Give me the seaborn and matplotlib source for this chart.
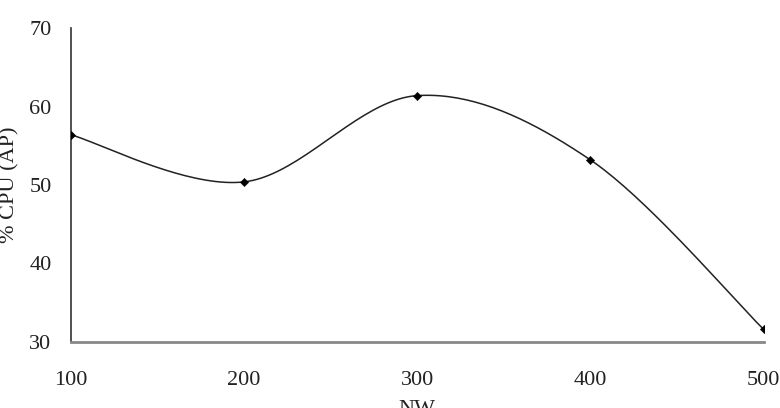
import numpy as np
import pandas as pd
import matplotlib
matplotlib.use('Agg')
import matplotlib.pyplot as plt
import seaborn as sns

nw = [100, 200, 300, 400, 500]
cpu = [56.4, 50.4, 61.4, 53.2, 31.6]
y_ticks = [30, 40, 50, 60, 70]


def smooth(xs, ys, n=40):
    # Excel-style smoothed line: cubic bezier segments, catmull-rom control points
    xs = np.asarray(xs, float)
    ys = np.asarray(ys, float)
    px = np.concatenate([[xs[0]], xs, [xs[-1]]])
    py = np.concatenate([[ys[0]], ys, [ys[-1]]])
    out_x, out_y = [], []
    t = np.linspace(0, 1, n)
    for i in range(1, len(px) - 2):
        p0 = np.array([px[i], py[i]])
        p3 = np.array([px[i + 1], py[i + 1]])
        c1 = p0 + (np.array([px[i + 1], py[i + 1]]) - np.array([px[i - 1], py[i - 1]])) / 6
        c2 = p3 - (np.array([px[i + 2], py[i + 2]]) - np.array([px[i], py[i]])) / 6
        b = ((1 - t) ** 3)[:, None] * p0 + (3 * (1 - t) ** 2 * t)[:, None] * c1 \
            + (3 * (1 - t) * t ** 2)[:, None] * c2 + (t ** 3)[:, None] * p3
        out_x.extend(b[:, 0])
        out_y.extend(b[:, 1])
    return out_x, out_y


sns.set_style('white')
plt.rcParams['font.family'] = ['Liberation Serif', 'DejaVu Serif']

fig = plt.figure(figsize=(7.8, 4.08), dpi=100)
ax = fig.add_axes([0.091, 0.162, 0.888, 0.769])

sx, sy = smooth(nw, cpu)
curve = pd.DataFrame({'NW': sx, 'CPU': sy})
points = pd.DataFrame({'NW': nw, 'CPU': cpu})
sns.lineplot(data=curve, x='NW', y='CPU', color='#222222', linewidth=1.1, ax=ax, sort=False)
sns.scatterplot(data=points, x='NW', y='CPU', marker='D', s=18, color='black',
                edgecolor='black', ax=ax, zorder=3)

ax.set_xlim(100, 500)
ax.set_ylim(30, 70)
ax.set_xticks(nw)
ax.set_yticks(y_ticks)
ax.tick_params(axis='both', labelsize=16, direction='out', width=1)
ax.tick_params(axis='x', length=4, pad=17, colors='#777777')
ax.tick_params(axis='y', length=7, pad=7, colors='#333333')
for lab in ax.get_xticklabels() + ax.get_yticklabels():
    lab.set_color('#222222')

for s in ['top', 'right']:
    ax.spines[s].set_visible(False)
ax.spines['left'].set_color('#333333')
ax.spines['left'].set_linewidth(1.2)
ax.spines['bottom'].set_color('#888888')
ax.spines['bottom'].set_linewidth(2)

ax.set_xlabel('NW', fontsize=16, color='#222222')
ax.xaxis.set_label_coords(0.5, -0.186)
ax.set_ylabel('% CPU (AP)', fontsize=16, color='#222222')
ax.yaxis.set_label_coords(-0.074, 0.5)

fig.savefig('out.png', dpi=100)
